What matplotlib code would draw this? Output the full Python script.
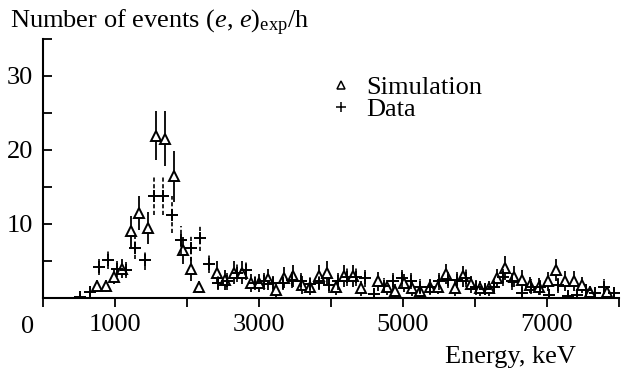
import matplotlib
matplotlib.use("Agg")
import matplotlib.pyplot as plt
from matplotlib.lines import Line2D
from matplotlib.ticker import FixedLocator

plt.rcParams['font.family'] = ['Liberation Serif', 'DejaVu Serif']
plt.rcParams['mathtext.fontset'] = 'custom'
plt.rcParams['mathtext.rm'] = 'Liberation Serif'
plt.rcParams['mathtext.it'] = 'Liberation Serif:italic'
plt.rcParams['mathtext.bf'] = 'Liberation Serif:bold'

# ---- data ----
sim_energy = [750, 869, 986, 1092, 1222, 1338, 1458, 1569, 1689, 1814,
              1939, 2050, 2171, 2417, 2522, 2647, 2764, 2883, 3004, 3119,
              3240, 3354, 3469, 3592, 3713, 3828, 3949, 4067, 4175, 4300,
              4417, 4657, 4778, 4893, 5008, 5125, 5240, 5369, 5486, 5601,
              5717, 5833, 5949, 6074, 6189, 6306, 6421, 6536, 6653, 6768,
              6893, 7008, 7125, 7244, 7369, 7486, 7601, 7833]
sim_counts = [1.6, 1.6, 2.85, 3.9, 9.0, 11.4, 9.4, 21.9, 21.5, 16.4,
              6.4, 3.9, 1.4, 3.4, 2.4, 3.4, 3.4, 2.0, 2.0, 2.5,
              1.0, 2.7, 2.9, 1.7, 1.5, 2.9, 3.4, 1.4, 2.9, 2.9,
              1.25, 2.2, 1.4, 0.9, 1.95, 1.25, 0.9, 1.5, 1.5, 3.2,
              1.25, 2.9, 1.8, 1.25, 1.25, 2.6, 4.0, 2.85, 2.4, 1.7,
              1.5, 2.2, 3.75, 2.25, 2.25, 1.7, 0.8, 0.8]
sim_err = [0.8, 0.8, 1.0, 1.3, 2.1, 2.3, 2.2, 3.3, 3.7, 3.5,
           1.8, 1.6, 0.8, 1.6, 1.4, 1.6, 1.6, 1.2, 1.2, 1.4,
           0.9, 1.4, 1.5, 1.2, 1.1, 1.5, 1.6, 1.0, 1.5, 1.5,
           1.0, 1.3, 1.0, 0.9, 1.2, 1.0, 0.9, 1.0, 1.0, 1.4,
           1.0, 1.4, 1.2, 1.0, 1.0, 1.3, 1.6, 1.4, 1.3, 1.1,
           1.1, 1.3, 1.5, 1.3, 1.3, 1.1, 0.8, 0.8]

data_energy = [518, 646, 773, 901, 1029, 1157, 1284, 1412, 1540, 1667,
               1795, 1923, 2050, 2178, 2306, 2434, 2561, 2689, 2817, 2944,
               3072, 3200, 3327, 3455, 3583, 3710, 3838, 3966, 4093, 4221,
               4349, 4476, 4604, 4732, 4859, 4987, 5115, 5242, 5370, 5498,
               5625, 5753, 5881, 6008, 6136, 6264, 6391, 6519, 6647, 6774,
               6902, 7030, 7157, 7285, 7413, 7541, 7668, 7796, 7924]
data_counts = [0.15, 0.75, 4.2, 5.1, 3.9, 3.7, 6.7, 5.1, 13.8, 13.8,
               11.2, 7.8, 6.7, 8.1, 4.6, 2.0, 2.2, 3.3, 3.75, 2.0,
               2.2, 1.95, 2.0, 2.4, 2.2, 1.85, 2.0, 1.7, 2.2, 2.85,
               2.8, 2.6, 0.5, 1.6, 2.2, 2.6, 2.3, 1.5, 1.4, 2.2,
               2.4, 2.4, 2.7, 1.4, 1.2, 1.5, 2.75, 2.2, 0.7, 1.5,
               1.4, 0.3, 1.7, 0.2, 0.3, 1.0, 0.6, 1.5, 0.6]
data_err = [0.3, 0.5, 1.1, 1.2, 1.1, 1.1, 1.5, 1.3, 2.6, 2.6,
            2.5, 1.9, 1.7, 1.8, 1.3, 1.0, 1.1, 1.2, 1.3, 1.0,
            1.1, 1.0, 1.0, 1.1, 1.1, 1.0, 1.0, 1.0, 1.1, 1.2,
            1.2, 1.2, 0.6, 1.0, 1.1, 1.2, 1.1, 1.0, 1.0, 1.1,
            1.1, 1.1, 1.2, 1.0, 0.9, 1.0, 1.2, 1.1, 0.7, 1.0,
            1.0, 0.4, 1.0, 0.3, 0.4, 0.8, 0.6, 1.0, 0.6]

x_major = [0, 1000, 2000, 3000, 4000, 5000, 6000, 7000, 8000]
x_labels = ['', '1000', '', '3000', '', '5000', '', '7000', '']
y_major = [10, 20, 30]
y_minor = [5, 15, 25, 35]

FS = 19

fig = plt.figure(figsize=(6.21, 3.71), dpi=100)
W, H = 621, 371
ax = fig.add_axes([43 / W, 1 - 297.7 / H, (619 - 43) / W, (297.7 - 39) / H])

ax.errorbar(sim_energy, sim_counts, yerr=sim_err, fmt='^', ms=7, mfc='white',
            mec='black', mew=1.4, ecolor='black', elinewidth=1.3, capsize=0, zorder=3)
eb = ax.errorbar(data_energy, data_counts, yerr=data_err, fmt='+', ms=8, mew=1.4,
                 color='black', ecolor='black', elinewidth=1.2, capsize=0, zorder=4)
eb[2][0].set_linestyle((0, (2.5, 1.5)))

ax.set_xlim(0, 8000)
ax.set_ylim(0, 35)
for s in ['top', 'right']:
    ax.spines[s].set_visible(False)
for s in ['left', 'bottom']:
    ax.spines[s].set_linewidth(1.5)

ax.xaxis.set_major_locator(FixedLocator(x_major))
ax.set_xticklabels(x_labels)
ax.yaxis.set_major_locator(FixedLocator(y_major))
ax.yaxis.set_minor_locator(FixedLocator(y_minor))
ax.tick_params(axis='x', direction='out', length=6.5, width=1.3, labelsize=FS, pad=5)
ax.tick_params(axis='y', which='both', direction='in', length=6.5, width=1.3,
               labelsize=FS, pad=7)
ax.text(-15 / 576, -29 / 258.7, '0', transform=ax.transAxes, fontsize=FS,
        ha='center', va='center')

fig.text(10 / W, 1 - 28 / H, r"Number of events ($e$, $e\mathrm{)}_{\mathrm{exp}}$/h",
         fontsize=FS, ha='left', va='baseline')
fig.text(576 / W, 1 - 363 / H, "Energy, keV", fontsize=FS, ha='right', va='baseline')

handles = [Line2D([], [], marker='^', ls='none', ms=5.5, mfc='white', mec='black', mew=1.1),
           Line2D([], [], marker='+', ls='none', ms=6.5, mec='black', mew=1.1)]
ax.legend(handles, ['Simulation', 'Data'], loc='upper left',
          bbox_to_anchor=(328 / W, 1 - 76 / H), bbox_transform=fig.transFigure,
          frameon=False, fontsize=FS, handlelength=1.0, handletextpad=0.45,
          borderpad=0, borderaxespad=0, labelspacing=-0.08)

fig.savefig('out.png', dpi=100)
